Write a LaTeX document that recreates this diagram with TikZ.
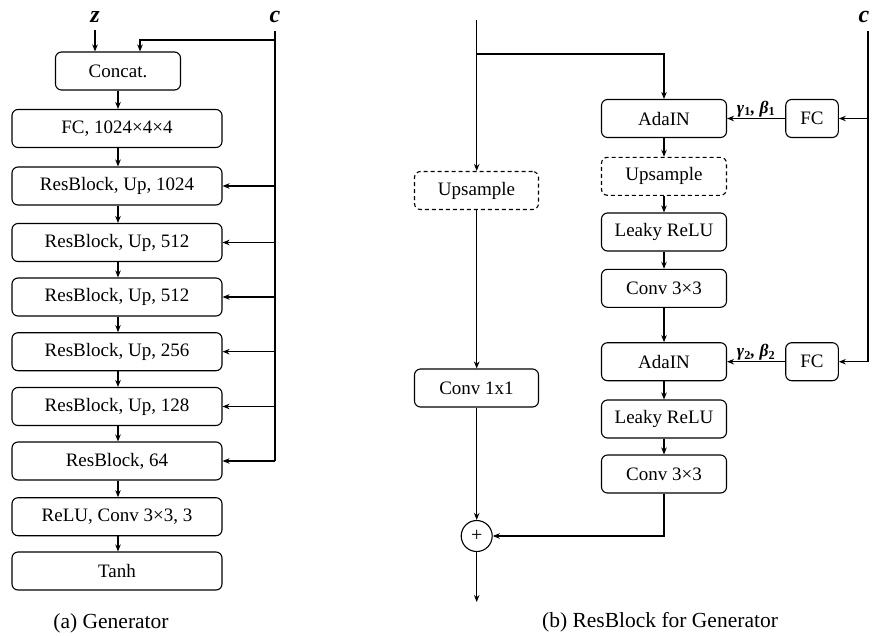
\documentclass[tikz,border=0pt]{standalone}
\usepackage{fontspec}
\setmainfont{Liberation Serif}
\usetikzlibrary{arrows.meta}
\begin{document}
\begin{tikzpicture}[x=1pt,y=-1pt,
  box/.style={draw, rounded corners=6pt, line width=1.1pt, minimum height=38pt, inner sep=0pt, font=\fontsize{19}{22}\selectfont},
  wide/.style={box, minimum width=210pt},
  mid/.style={box, minimum width=125pt},
  dashbox/.style={box, dash pattern=on 4pt off 3pt},
  small/.style={box, minimum width=52.6pt},
  arr/.style={line width=1.1pt, -{Stealth[length=7pt,width=5.5pt]}},
  ln/.style={line width=1.1pt},
  var/.style={font=\fontsize{24}{26}\selectfont\bfseries\itshape, inner sep=0pt},
  lab/.style={font=\fontsize{17.5}{19}\selectfont\bfseries\itshape, inner sep=1pt},
  captxt/.style={font=\fontsize{21.5}{24}\selectfont, inner sep=0pt}
]
\useasboundingbox (0,0) rectangle (872,635);

% ---------- (a) Generator ----------
\node[mid]  (concat) at (118,71)    {Concat.};
\node[wide] (fc)     at (117,128.5) {FC, 1024×4×4};
\node[wide] (r1)     at (117,186)   {ResBlock, Up, 1024};
\node[wide] (r2)     at (117,242.5) {ResBlock, Up, 512};
\node[wide] (r3)     at (117,297)   {ResBlock, Up, 512};
\node[wide] (r4)     at (117,351.7) {ResBlock, Up, 256};
\node[wide] (r5)     at (117,406.5) {ResBlock, Up, 128};
\node[wide] (r6)     at (117,461)   {ResBlock, 64};
\node[wide] (relu)   at (117,516.7) {ReLU, Conv 3×3, 3};
\node[wide] (tanh)   at (117,571)   {Tanh};

\node[var] (z) at (95,17) {z};
\node[var] (c) at (275,17) {c};
\coordinate (cs) at (275,31);
\coordinate (cj) at (275,40);
\coordinate (ct) at (140,40);

\draw[arr] (z.south |- 0,30) -- (z.south |- concat.north);
\draw[ln] (cs) -- (cs |- r6.east);
\draw[arr] (cj) -- (ct) -- (ct |- concat.north);
\foreach \n in {r1,r2,r3,r4,r5,r6}{
  \draw[arr] (\n.east -| cj) -- (\n.east);
}
\draw[arr] (concat) -- (concat |- fc.north);
\draw[arr] (fc.south -| concat) -- (r1.north -| concat);
\draw[arr] (r1.south -| concat) -- (r2.north -| concat);
\draw[arr] (r2.south -| concat) -- (r3.north -| concat);
\draw[arr] (r3.south -| concat) -- (r4.north -| concat);
\draw[arr] (r4.south -| concat) -- (r5.north -| concat);
\draw[arr] (r5.south -| concat) -- (r6.north -| concat);
\draw[arr] (r6.south -| concat) -- (relu.north -| concat);
\draw[arr] (relu.south -| concat) -- (tanh.north -| concat);

\node[captxt] (capa) at (111,623) {(a) Generator};

% ---------- (b) ResBlock ----------
\node[dashbox, minimum width=124pt] (up1) at (476.5,190.5) {Upsample};
\node[box, minimum width=124pt] (c11) at (476.5,388) {Conv 1x1};
\node[draw, circle, line width=1.1pt, minimum size=31pt, inner sep=0pt, font=\fontsize{20}{22}\selectfont] (plus) at (476.7,536) {+};

\node[mid] (ada1) at (664,118.5) {AdaIN};
\node[dashbox, minimum width=125pt] (up2) at (664,176.3) {Upsample};
\node[mid] (lr1)  at (664,232)   {Leaky ReLU};
\node[mid] (cv1)  at (664,288.3) {Conv 3×3};
\node[mid] (ada2) at (664,361.7) {AdaIN};
\node[mid] (lr2)  at (664,419)   {Leaky ReLU};
\node[mid] (cv2)  at (664,474)   {Conv 3×3};

\node[small] (fc1) at (812,118.5) {FC};
\node[small] (fc2) at (812,361.7) {FC};

\node[var] (c2) at (864,17) {c};
\coordinate (cr) at (868,31);

\coordinate (in) at (476.7,20);
\coordinate (br) at (476.7,54);
\coordinate (out) at (476.7,602);

\draw[arr] (in) -- (in |- up1.north);
\draw[arr] (br) -| (ada1.north);
\draw[arr] (up1.south -| in) -- (c11.north -| in);
\draw[arr] (c11.south -| in) -- (plus.north);
\draw[arr] (cv2.south) |- (plus.east);
\draw[arr] (plus.south) -- (out);

\draw[arr] (ada1) -- (up2);
\draw[arr] (up2) -- (lr1);
\draw[arr] (lr1) -- (cv1);
\draw[arr] (cv1) -- (ada2);
\draw[arr] (ada2) -- (lr2);
\draw[arr] (lr2) -- (cv2);

\draw[arr] (cr) |- (fc2.east);
\draw[arr] (fc1.east -| cr) -- (fc1.east);
\draw[arr] (fc1.west) -- (ada1.east) node[midway, above, lab] {γ\textsubscript{\upshape 1}, β\textsubscript{\upshape 1}};
\draw[arr] (fc2.west) -- (ada2.east) node[midway, above, lab] {γ\textsubscript{\upshape 2}, β\textsubscript{\upshape 2}};

\node[captxt] (capb) at (660,622) {(b) ResBlock for Generator};
\end{tikzpicture}
\end{document}
